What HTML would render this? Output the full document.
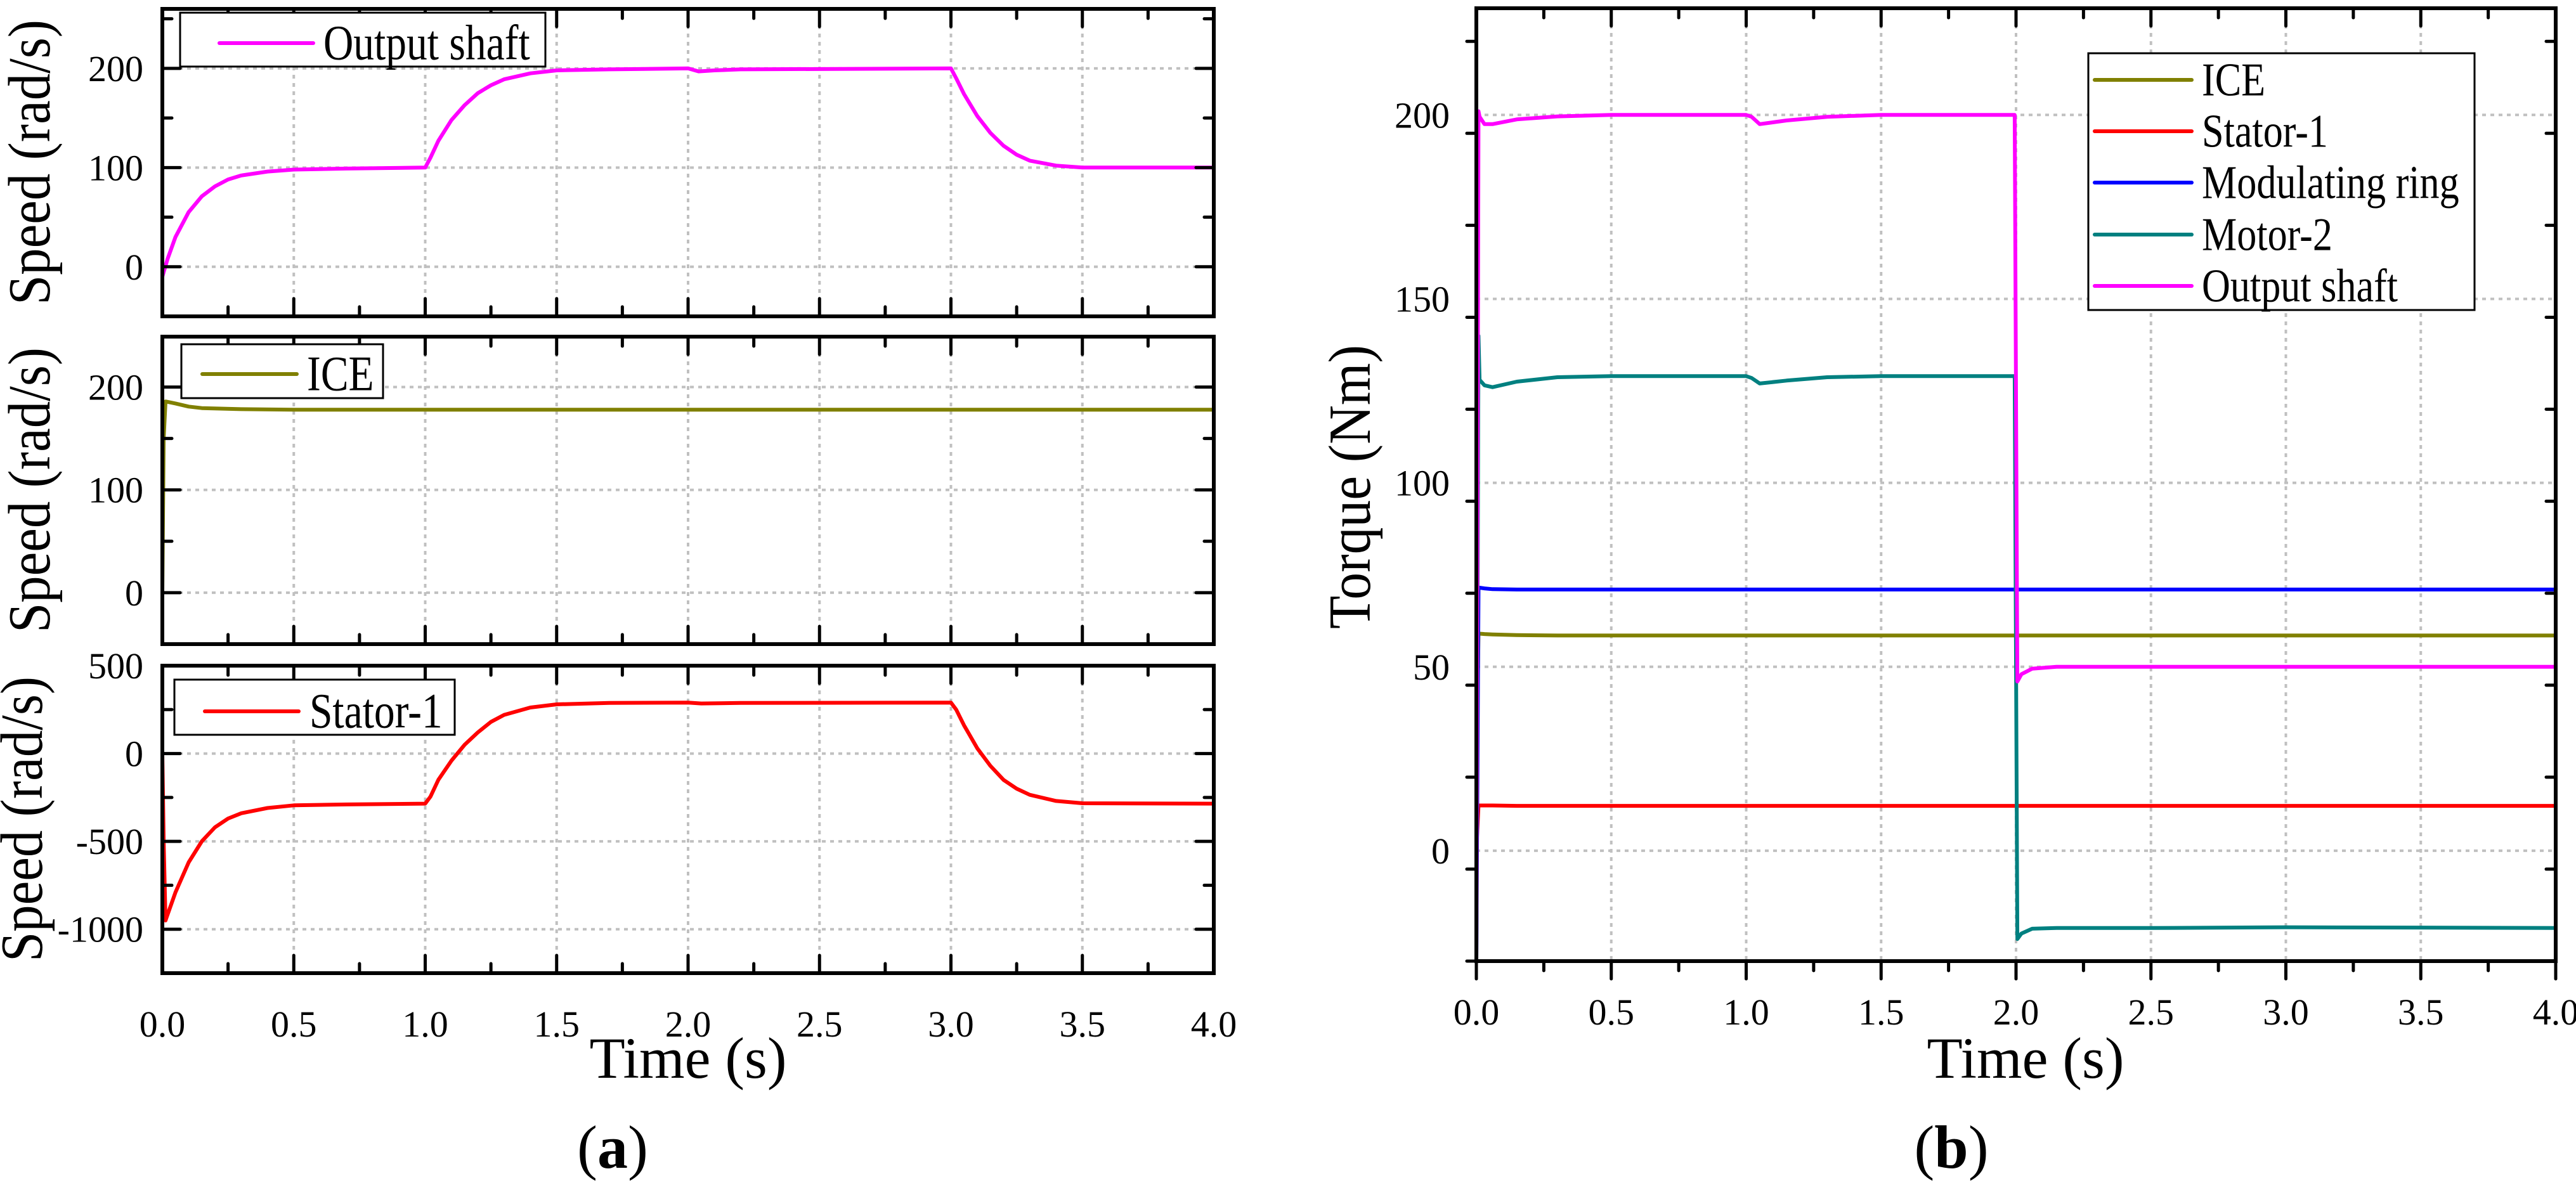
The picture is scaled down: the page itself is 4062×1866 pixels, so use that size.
<!DOCTYPE html>
<html><head><meta charset="utf-8"><style>
html,body{margin:0;padding:0;background:#fff;}
svg{display:block;}
text{font-family:"Liberation Serif","DejaVu Serif",serif;fill:#000;}
</style></head><body>
<svg id="fig" width="4062" height="1866" viewBox="0 0 4062 1866" xmlns="http://www.w3.org/2000/svg" font-family="Liberation Serif, serif"></svg>
<script>
// ---- Data (a) ----
const tOut = [0,0.02,0.05,0.1,0.15,0.2,0.25,0.3,0.4,0.5,0.7,1.0,1.02,1.05,1.1,1.15,1.2,1.25,1.3,1.4,1.5,1.7,2.0,2.04,2.1,2.2,3.0,3.02,3.05,3.1,3.15,3.2,3.25,3.3,3.4,3.5,4.0];
const vOut = [-10,8,30,55,71,81,88,92,96,98,99,100,110,127,148,163,175,183,189,195,198,199,200,197,198,199,200,190,174,152,135,122,113,107,102,100,100];
const tIce = [0,0.005,0.012,0.05,0.1,0.15,0.3,0.5,4.0];
const vIce = [0,150,186,184,181,179.5,178.5,178,178];
const tSt = [0,0.005,0.012,0.05,0.1,0.15,0.2,0.25,0.3,0.4,0.5,0.7,1.0,1.02,1.05,1.1,1.15,1.2,1.25,1.3,1.4,1.5,1.7,2.0,2.05,2.2,3.0,3.02,3.05,3.1,3.15,3.2,3.25,3.3,3.4,3.5,4.0];
const vSt = [0,-500,-950,-790,-620,-500,-420,-370,-340,-310,-295,-290,-285,-245,-150,-40,50,120,180,220,262,280,288,290,285,288,290,250,160,30,-70,-150,-200,-235,-270,-283,-285];
// ---- Data (b) ----
const tTq = [0,0.008,0.012,0.03,0.06,0.15,0.3,0.5,1.0,1.02,1.05,1.15,1.3,1.5,1.995,2.005,2.02,2.06,2.15,2.5,3.0,4.0];
const vTqIce = [20,59,59,58.9,58.8,58.6,58.5,58.5,58.5,58.5,58.5,58.5,58.5,58.5,58.5,58.5,58.5,58.5,58.5,58.5,58.5,58.5];
const vTqSt = [0,12.3,12.3,12.3,12.3,12.2,12.2,12.2,12.2,12.2,12.2,12.2,12.2,12.2,12.2,12.2,12.2,12.2,12.2,12.2,12.2,12.2];
const vTqMr = [-30,71.5,71.5,71.3,71.1,71,71,71,71,71,71,71,71,71,71,71,71,71,71,71,71,71];
const vTqM2 = [-30,140,128,126.5,126,127.5,128.7,129,129,128.5,127,127.8,128.7,129,129,-24,-22.5,-21.2,-21,-21,-20.8,-21];
const vTqOut = [-30,201,199.5,197.5,197.5,198.8,199.6,200,200,199.5,197.5,198.5,199.5,200,200,46,48,49.5,50,50,50,50];
const xTicks = ["0.0","0.5","1.0","1.5","2.0","2.5","3.0","3.5","4.0"];

const NS="http://www.w3.org/2000/svg";
const svg=document.getElementById('fig');
function mk(tag,attrs,parent){const e=document.createElementNS(NS,tag);for(const k in attrs)e.setAttribute(k,attrs[k]);(parent||svg).appendChild(e);return e;}
function txt(s,x,y,size,anchor,parent,extra){const e=mk('text',Object.assign({x:x,y:y,'font-size':size,'text-anchor':anchor||'start','font-family':'Liberation Serif, serif'},extra||{}),parent);e.textContent=s;return e;}

function panel(o){
  const g=mk('g',{});
  
  
  const sx=v=>o.x0+(v-0)/4*(o.x1-o.x0);
  const sy=v=>o.y1-(v-o.ymin)/(o.ymax-o.ymin)*(o.y1-o.y0);
  const grid=mk('g',{stroke:'#c0c0c0','stroke-width':4,'stroke-dasharray':'6 7'},g);
  
  
  for(let i=1;i<8;i++){const x=sx(i*0.5);mk('line',{x1:x,x2:x,y1:o.y0,y2:o.y1},grid);}
  for(const v of o.yticks){const y=sy(v);if(y>o.y0+3&&y<o.y1-3)mk('line',{x1:o.x0,x2:o.x1,y1:y,y2:y},grid);}
  for(const s of o.series){
    let d='';s.t.forEach((t,i)=>{d+=(i?'L':'M')+sx(t).toFixed(1)+','+sy(s.v[i]).toFixed(1);});
    const p=mk('path',{d:d,fill:'none',stroke:s.color,'stroke-width':6,'stroke-linejoin':'round'},g);
    
    
  }
  const tk=mk('g',{stroke:'#000','stroke-width':5,'stroke-linecap':'round'},g);
  const dirOut=o.outward?-1:1;
  for(let i=0;i<=16;i++){const x=sx(i*0.25);const L=i%2?15:28;
    mk('line',{x1:x,x2:x,y1:o.y1,y2:o.y1-L*dirOut},tk);
    mk('line',{x1:x,x2:x,y1:o.y0,y2:o.y0+L},tk);}
  for(let v=o.ymin;v<=o.ymax+1e-6;v+=o.minor){const y=sy(v);if(y<o.y0-1||y>o.y1+1)continue;
    const major=o.yticks.some(t=>Math.abs(t-v)<1e-6);const L=major?28:15;
    mk('line',{x1:o.x0,x2:o.x0+L*dirOut,y1:y,y2:y},tk);
    mk('line',{x1:o.x1,x2:o.x1-L,y1:y,y2:y},tk);}
  const fr=mk('rect',{x:o.x0,y:o.y0,width:o.x1-o.x0,height:o.y1-o.y0,fill:'none',stroke:'#000','stroke-width':6},g);
  
  
  for(const v of o.yticks){const t=txt(String(v),o.labelX,sy(v)+20,58,'end',g);
    
    }
  if(o.showX){xTicks.forEach((s,i)=>{const t=txt(s,sx(i*0.5),o.y1+100,58,'middle',g);
    
    });}
  return {sx,sy,g};
}

const P1=panel({name:'output-shaft-speed-panel',x0:256,x1:1914,y0:14,y1:499,ymin:-50,ymax:260,yticks:[0,100,200],minor:50,labelX:226,showX:false,
  series:[{t:tOut,v:vOut,color:'#ff00ff',name:'output-shaft-line'}]});
const P2=panel({name:'ice-speed-panel',x0:256,x1:1914,y0:531,y1:1016,ymin:-50,ymax:249,yticks:[0,100,200],minor:50,labelX:226,showX:false,
  series:[{t:tIce,v:vIce,color:'#808000',name:'ice-line'}]});
const P3=panel({name:'stator-speed-panel',x0:256,x1:1914,y0:1050,y1:1535,ymin:-1250,ymax:500,yticks:[-1000,-500,0,500],minor:250,labelX:226,showX:true,
  series:[{t:tSt,v:vSt,color:'#ff0000',name:'stator-1-line'}]});
const P4=panel({name:'torque-panel',x0:2328,x1:4030,y0:13,y1:1516,ymin:-30,ymax:229,yticks:[0,50,100,150,200],minor:25,labelX:2286,showX:true,outward:true,
  series:[{t:tTq,v:vTqIce,color:'#808000',name:'ice-torque-line'},
          {t:tTq,v:vTqSt,color:'#ff0000',name:'stator-1-torque-line'},
          {t:tTq,v:vTqMr,color:'#0000ff',name:'modulating-ring-torque-line'},
          {t:tTq,v:vTqM2,color:'#008080',name:'motor-2-torque-line'},
          {t:tTq,v:vTqOut,color:'#ff00ff',name:'output-shaft-torque-line'}]});

function legend(name,x,y,w,h,items,lx0,lx1,tx,fs){
  const g=mk('g',{});
  
  
  mk('rect',{x:x,y:y,width:w,height:h,fill:'#fff',stroke:'#000','stroke-width':3},g);
  for(const it of items){
    mk('line',{x1:lx0,x2:lx1,y1:it.y,y2:it.y,stroke:it.c,'stroke-width':6,'stroke-linecap':'round'},g);
    const t=txt(it.s,0,0,fs,'start',g,{transform:`translate(${tx},${it.y+fs*0.33}) scale(0.84,1)`});
    
    
  }
}
legend('legend-output-shaft',284,20,576,85,[{s:'Output shaft',c:'#ff00ff',y:68}],346,494,510,78);
legend('legend-ice',286,543,318,85,[{s:'ICE',c:'#808000',y:590}],319,468,484,78);
legend('legend-stator',275,1072,442,87,[{s:'Stator-1',c:'#ff0000',y:1122}],323,471,488,78);
legend('legend-torque',3293,84,609,405,[
  {s:'ICE',c:'#808000',y:126},{s:'Stator-1',c:'#ff0000',y:207},{s:'Modulating ring',c:'#0000ff',y:288},
  {s:'Motor-2',c:'#008080',y:370},{s:'Output shaft',c:'#ff00ff',y:451}],3303,3456,3472,74);

function rot(s,cx,cy,name,fs,len){const t=txt(s,0,0,fs,'middle',svg,{transform:`translate(${cx},${cy}) rotate(-90)`,textLength:len,lengthAdjust:'spacingAndGlyphs'});
  
  }
rot('Speed (rad/s)',78,256,'y-axis-title-output',94,450);
rot('Speed (rad/s)',78,773,'y-axis-title-ice',94,450);
rot('Speed (rad/s)',66,1292,'y-axis-title-stator',94,450);
rot('Torque (Nm)',2160,768,'y-axis-title-torque',94,448);
let t;
t=txt('Time (s)',1085,1700,92,'middle');


t=txt('Time (s)',3194,1700,92,'middle');


t=txt('(a)',966,1842,96,'middle');


t.innerHTML='(<tspan font-weight="bold">a</tspan>)';
t=txt('(b)',3077,1842,96,'middle');


t.innerHTML='(<tspan font-weight="bold">b</tspan>)';
</script>
</body></html>
